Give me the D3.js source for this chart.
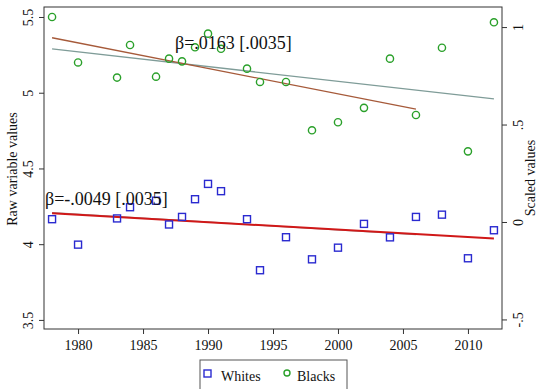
<!DOCTYPE html>
<html>
<head>
<meta charset="utf-8">
<script src="https://cdn.jsdelivr.net/npm/d3@7"></script>
<style>
body { margin: 0; background: #fff; }
svg text { font-family: "Liberation Serif", "Times New Roman", Times, serif; fill: #111; }
</style>
</head>
<body>
<svg id="chart" width="537" height="389"></svg>
<script>
var years = [1978, 1980, 1983, 1984, 1986, 1987, 1988, 1989, 1990, 1991, 1993, 1994,
	1996, 1998, 2000, 2002, 2004, 2006, 2008, 2010, 2012];
var whites = [4.165, 3.997, 4.17, 4.244, 4.287, 4.13, 4.18, 4.297, 4.398, 4.35, 4.165, 3.828,
	4.046, 3.90, 3.977, 4.134, 4.045, 4.18, 4.195, 3.907, 4.092];
var blacks = [5.5, 5.2, 5.1, 5.315, 5.106, 5.225, 5.207, 5.30, 5.39, 5.29, 5.159, 5.071,
	5.071, 4.752, 4.805, 4.90, 5.225, 4.853, 5.297, 4.613, 5.465];

// fitted lines: [year, value] endpoints
var blackFitShort = [[1978, 5.363], [2006, 4.891]];
var blackFitLong = [[1978, 5.289], [2012, 4.959]];
var whiteFitShort = [[1978, 4.209], [2006, 4.063]];
var whiteFitLong = [[1978, 4.204], [2012, 4.037]];

var xTicks = [1980, 1985, 1990, 1995, 2000, 2005, 2010];
var yTicks = [3.5, 4, 4.5, 5, 5.5];
var yTickLabels = ["3.5", "4", "4.5", "5", "5.5"];
var rTicks = [-0.5, 0, 0.5, 1];
var rTickLabels = ["-.5", "0", ".5", "1"];

var serif = "'Liberation Serif', 'Times New Roman', serif";
var margin = { top: 7, left: 44 };
var width = 458, height = 322;

var svg = d3.select("#chart");
var g = svg.append("g").attr("transform", "translate(" + margin.left + "," + margin.top + ")");

var x = d3.scaleLinear().domain([1977.38, 2012.62]).range([0, width]);
var y = d3.scaleLinear().domain([3.44, 5.566]).range([height, 0]);
var yR = d3.scaleLinear().domain([-0.549, 1.103]).range([height, 0]);

var line = d3.line()
	.x(function(d) { return x(d[0]); })
	.y(function(d) { return y(d[1]); });

var fits = [
	{ pts: blackFitLong, color: "#7f9c98" },
	{ pts: blackFitShort, color: "#a65a3a" },
	{ pts: whiteFitShort, color: "#999999" },
	{ pts: whiteFitLong, color: "#d01818" }
];

g.selectAll(".fit").data(fits).enter().append("path")
	.attr("class", "fit")
	.attr("d", function(d) { return line(d.pts); })
	.attr("fill", "none")
	.attr("stroke", function(d) { return d.color; })
	.attr("stroke-width", function(d, i) { return i == 3 ? 2 : 1.3; });

// whites: squares
g.selectAll(".w").data(years).enter().append("rect")
	.attr("class", "w")
	.attr("x", function(d) { return x(d) - 3.5; })
	.attr("y", function(d, i) { return y(whites[i]) - 3.5; })
	.attr("width", 7)
	.attr("height", 7)
	.attr("fill", "none")
	.attr("stroke", "#2a2ad0")
	.attr("stroke-width", 1.4);

// blacks: circles
g.selectAll(".b").data(years).enter().append("circle")
	.attr("class", "b")
	.attr("cx", function(d) { return x(d); })
	.attr("cy", function(d, i) { return y(blacks[i]); })
	.attr("r", 3.6)
	.attr("fill", "none")
	.attr("stroke", "#2aa02a")
	.attr("stroke-width", 1.4);

// frame
g.append("rect").attr("width", width).attr("height", height)
	.attr("fill", "none").attr("stroke", "#333").attr("stroke-width", 1);

// bottom axis
var xAxis = g.append("g").attr("transform", "translate(0," + height + ")")
	.call(d3.axisBottom(x).tickValues(xTicks).tickFormat(d3.format("d")).tickSize(5).tickPadding(6));
xAxis.attr("font-family", serif).attr("font-size", 14);
xAxis.select(".domain").remove();
xAxis.selectAll("line").attr("stroke", "#333");

// left axis
var yAxis = g.append("g")
	.call(d3.axisLeft(y).tickValues(yTicks).tickFormat(function(d, i) { return yTickLabels[i]; }).tickSize(5));
yAxis.attr("font-family", serif).attr("font-size", 14);
yAxis.select(".domain").remove();
yAxis.selectAll("line").attr("stroke", "#333");
yAxis.selectAll("text")
	.attr("x", null).attr("dy", null)
	.attr("text-anchor", "middle")
	.attr("transform", "translate(-11,0) rotate(-90)");

// right axis
var rAxis = g.append("g").attr("transform", "translate(" + width + ",0)")
	.call(d3.axisRight(yR).tickValues(rTicks).tickFormat(function(d, i) { return rTickLabels[i]; }).tickSize(5));
rAxis.attr("font-family", serif).attr("font-size", 14);
rAxis.select(".domain").remove();
rAxis.selectAll("line").attr("stroke", "#333");
rAxis.selectAll("text")
	.attr("x", null).attr("dy", null)
	.attr("text-anchor", "middle")
	.attr("transform", "translate(21,0) rotate(-90)");

// axis titles
svg.append("text")
	.attr("transform", "translate(17,169) rotate(-90)")
	.attr("text-anchor", "middle")
	.attr("font-size", 14)
	.text("Raw variable values");
svg.append("text")
	.attr("transform", "translate(535,178) rotate(-90)")
	.attr("text-anchor", "middle")
	.attr("font-size", 14)
	.text("Scaled values");

// annotations
svg.append("text").attr("x", 175).attr("y", 49).attr("font-size", 18).text("β=.0163 [.0035]");
svg.append("text").attr("x", 45).attr("y", 205).attr("font-size", 18).text("β=-.0049 [.0035]");

// legend
var leg = svg.append("g");
leg.append("rect").attr("x", 200).attr("y", 360).attr("width", 147).attr("height", 32)
	.attr("fill", "#fff").attr("stroke", "#555");
leg.append("rect").attr("x", 204).attr("y", 370).attr("width", 7).attr("height", 7)
	.attr("fill", "none").attr("stroke", "#2a2ad0").attr("stroke-width", 1.4);
leg.append("text").attr("x", 221).attr("y", 381).attr("font-size", 14).text("Whites");
leg.append("circle").attr("cx", 287).attr("cy", 373).attr("r", 3)
	.attr("fill", "none").attr("stroke", "#2aa02a").attr("stroke-width", 1.4);
leg.append("text").attr("x", 297).attr("y", 381).attr("font-size", 14).text("Blacks");
</script>
</body>
</html>
